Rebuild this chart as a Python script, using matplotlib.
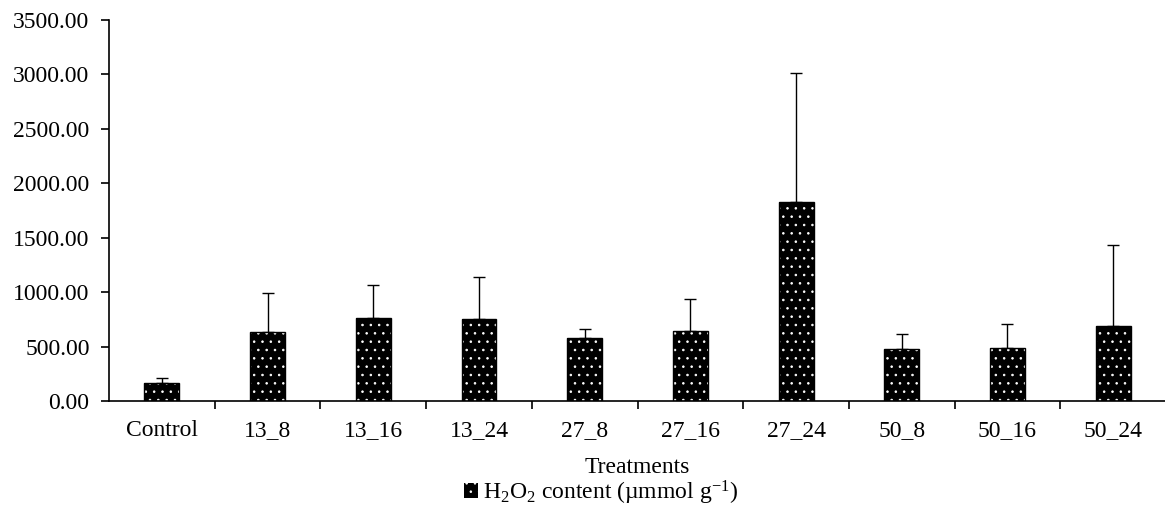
import matplotlib.pyplot as plt
import numpy as np

plt.rcParams['font.family'] = 'Liberation Serif'
plt.rcParams['mathtext.fontset'] = 'custom'
plt.rcParams['mathtext.rm'] = 'Liberation Serif'
plt.rcParams['mathtext.it'] = 'Liberation Serif:italic'
plt.rcParams['hatch.linewidth'] = 0.6

# Data
treatments = ['Control', '13_8', '13_16', '13_24', '27_8', '27_16', '27_24', '50_8', '50_16', '50_24']
h2o2 = [165, 630, 760, 750, 575, 640, 1830, 478, 490, 690]
h2o2_err = [50, 360, 310, 385, 90, 300, 1180, 135, 218, 740]

fig = plt.figure(figsize=(11.65, 5.13), dpi=100)
ax = fig.add_axes([0.0936, 0.2183, 0.9073, 0.7427])

x = np.arange(len(treatments))
w = 0.33

# dotted fill: black face with white dot hatch, then black outline on top
ax.bar(x, h2o2, width=w, color='black', edgecolor='white', hatch='..', linewidth=0, zorder=2,
       label='H$_2$O$_2$ content (µmmol g$^{-1}$)')
ax.bar(x, h2o2, width=w, fill=False, edgecolor='black', linewidth=1, zorder=3)
ax.errorbar(x, h2o2, yerr=[np.zeros(len(h2o2)), h2o2_err], fmt='none', ecolor='black',
            elinewidth=1, capsize=4.5, capthick=1, zorder=1)

ax.set_ylim(0, 3500)
ax.set_yticks(np.arange(0, 3501, 500))
ax.set_yticklabels([f'{v:.2f}' for v in np.arange(0, 3501, 500)])
ax.set_xlim(-0.5, len(treatments) - 0.5)
ax.set_xticks(x)
ax.set_xticklabels(treatments)
ax.set_xticks(np.arange(0.5, len(treatments) - 0.5, 1), minor=True)
ax.tick_params(axis='x', which='major', length=0, pad=14, labelsize=17)
ax.tick_params(axis='x', which='minor', length=6, width=1.2, direction='out')
ax.tick_params(axis='y', length=6, width=1.2, labelsize=17, pad=8)

for s in ['top', 'right']:
    ax.spines[s].set_visible(False)
ax.spines['left'].set_linewidth(1.2)
ax.spines['bottom'].set_linewidth(1.2)

ax.set_xlabel('Treatments', fontsize=17, labelpad=11)
fig.legend(*ax.get_legend_handles_labels(), loc='center', bbox_to_anchor=(0.516, 0.04),
           frameon=False, fontsize=17, handlelength=0.6, handleheight=0.6,
           handletextpad=0.2, borderpad=0)

fig.savefig('out.png', dpi=100)
